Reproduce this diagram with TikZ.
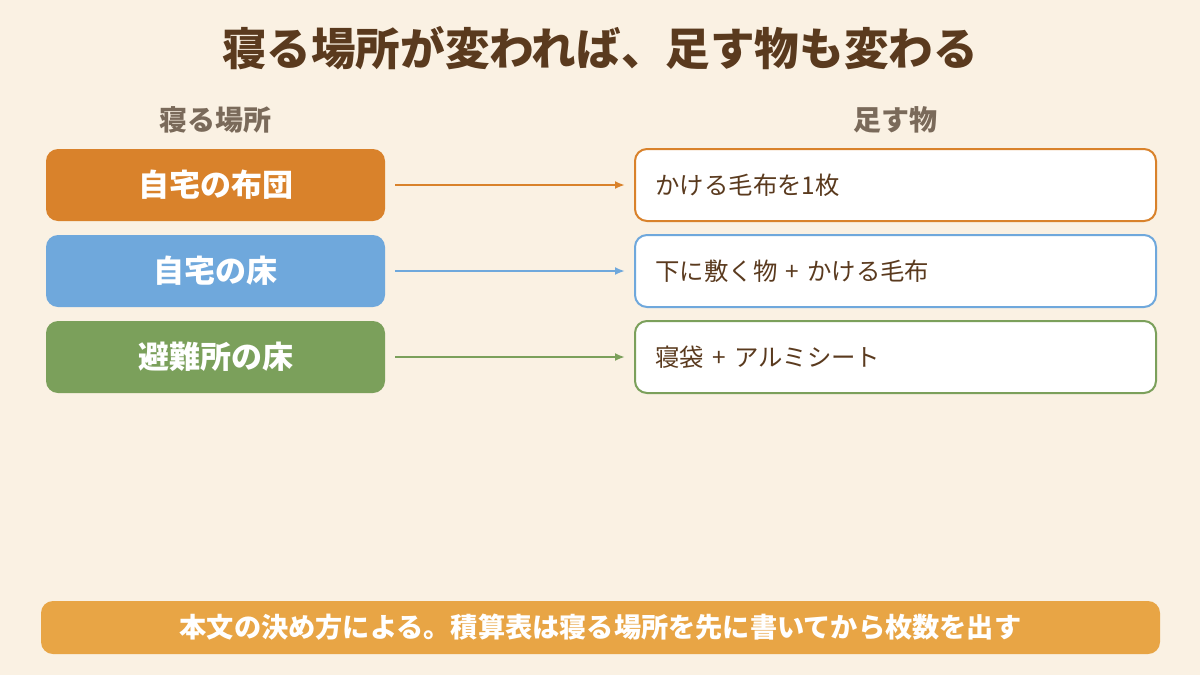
\documentclass[tikz,border=0pt]{standalone}
\usepackage{fontspec}
\setmainfont{Noto Sans CJK JP}
\usetikzlibrary{arrows.meta}
\definecolor{bgcol}{HTML}{FAF1E3}
\definecolor{titlecol}{HTML}{5A3A1E}
\definecolor{headcol}{HTML}{7A6A5A}
\definecolor{futoncol}{HTML}{D9822B}
\definecolor{floorcol}{HTML}{6FA8DC}
\definecolor{shelcol}{HTML}{7BA05B}
\definecolor{barcol}{HTML}{E8A545}
\tikzset{
  place/.style={rounded corners=6pt,fill=#1,text=white,font=\bfseries\fontsize{15.5}{18}\selectfont,
                minimum width=169.5pt,minimum height=36pt,inner sep=0pt},
  item/.style={rounded corners=6pt,draw=#1,line width=1pt,fill=white,text=titlecol,
               font=\fontsize{12.2}{14}\selectfont,minimum width=260.5pt,minimum height=36pt,
               text width=240pt,align=left,inner sep=0pt},
  link/.style={draw=#1,line width=1pt,-{Latex[length=5pt,width=4pt]}}
}
\begin{document}
\begin{tikzpicture}[x=0.5pt,y=-0.5pt]
  \fill[bgcol] (0,0) rectangle (1200,675);
  \useasboundingbox (0,0) rectangle (1200,675);

  % TITLE
  \node[text=titlecol,font=\bfseries\fontsize{22.3}{26}\selectfont] (title) at (600,48) {寝る場所が変われば、足す物も変わる};
  \node[text=headcol,font=\bfseries\fontsize{14}{16}\selectfont] (hplace) at (215,120) {寝る場所};
  \node[text=headcol,font=\bfseries\fontsize{14}{16}\selectfont] (hitem) at (895,120) {足す物};

  % ROWS
  \foreach \y/\col/\pl/\it [count=\i] in {185/futoncol/自宅の布団/かける毛布を1枚,
                                    271/floorcol/自宅の床/下に敷く物 + かける毛布,
                                    357/shelcol/避難所の床/寝袋 + アルミシート}{
    \node[place=\col] (p\i) at (215.5,\y) {\pl};
    \node[item=\col] (q\i) at (895.5,\y) {\it};
    \coordinate (s\i) at (395,\y);
    \coordinate (e\i) at (625,\y);
    \draw[link=\col] (s\i) -- (e\i);
  }

  % NOTE
  \node[rounded corners=6pt,fill=barcol,text=white,font=\bfseries\fontsize{13.6}{16}\selectfont,
        minimum width=559.5pt,minimum height=26.5pt] (note) at (600.5,627.5)
        {本文の決め方による。積算表は寝る場所を先に書いてから枚数を出す};
\end{tikzpicture}
\end{document}
